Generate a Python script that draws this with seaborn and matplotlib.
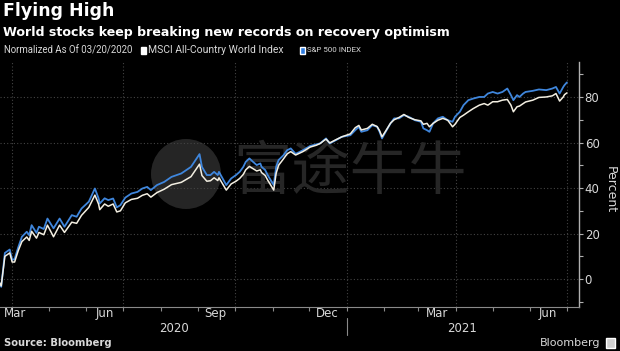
import matplotlib
matplotlib.use("Agg")
import matplotlib.pyplot as plt
import matplotlib.dates as mdates
from matplotlib.patches import Circle, Rectangle
from matplotlib.transforms import IdentityTransform
import pandas as pd
import seaborn as sns

# ---- data ----
dates = [
    "2020-03-20", "2020-03-23", "2020-03-26", "2020-03-30", "2020-04-01", "2020-04-03",
    "2020-04-06", "2020-04-09", "2020-04-13", "2020-04-15", "2020-04-17", "2020-04-21",
    "2020-04-23", "2020-04-27", "2020-04-30", "2020-05-05", "2020-05-10", "2020-05-14",
    "2020-05-20", "2020-05-24", "2020-05-28", "2020-06-03", "2020-06-08", "2020-06-11",
    "2020-06-12", "2020-06-16", "2020-06-19", "2020-06-23", "2020-06-26", "2020-06-29",
    "2020-07-03", "2020-07-08", "2020-07-13", "2020-07-17", "2020-07-21", "2020-07-24",
    "2020-07-29", "2020-08-04", "2020-08-10", "2020-08-18", "2020-08-26", "2020-09-02",
    "2020-09-04", "2020-09-08", "2020-09-11", "2020-09-14", "2020-09-17", "2020-09-18",
    "2020-09-21", "2020-09-24", "2020-09-28", "2020-10-02", "2020-10-05", "2020-10-08",
    "2020-10-10", "2020-10-13", "2020-10-16", "2020-10-19", "2020-10-22", "2020-10-23",
    "2020-10-26", "2020-10-28", "2020-11-02", "2020-11-04", "2020-11-06", "2020-11-10",
    "2020-11-13", "2020-11-16", "2020-11-20", "2020-11-26", "2020-12-02", "2020-12-07",
    "2020-12-10", "2020-12-15", "2020-12-18", "2020-12-23", "2020-12-28", "2021-01-04",
    "2021-01-08", "2021-01-11", "2021-01-13", "2021-01-18", "2021-01-22", "2021-01-26",
    "2021-01-28", "2021-01-30", "2021-02-02", "2021-02-06", "2021-02-09", "2021-02-13",
    "2021-02-17", "2021-02-21", "2021-02-26", "2021-03-03", "2021-03-05", "2021-03-08",
    "2021-03-10", "2021-03-13", "2021-03-17", "2021-03-21", "2021-03-25", "2021-03-29",
    "2021-03-31", "2021-04-04", "2021-04-07", "2021-04-11", "2021-04-15", "2021-04-20",
    "2021-04-24", "2021-04-27", "2021-05-01", "2021-05-05", "2021-05-09", "2021-05-13",
    "2021-05-16", "2021-05-18", "2021-05-21", "2021-05-23", "2021-05-26", "2021-05-28",
    "2021-06-03", "2021-06-08", "2021-06-14", "2021-06-19", "2021-06-22", "2021-06-25",
    "2021-06-28", "2021-06-29", "2021-07-01",
]
spx = [
    0.0, -3.4, 11.5, 13.0, 8.5, 8.8,
    14.0, 18.6, 20.8, 19.3, 23.7, 20.3,
    23.0, 22.0, 26.6, 22.3, 26.6, 23.0,
    28.1, 27.4, 31.0, 34.0, 39.8, 35.5,
    33.2, 35.5, 34.7, 35.4, 31.5, 32.5,
    35.8, 37.6, 38.3, 39.8, 40.5, 39.1,
    41.3, 42.7, 44.9, 46.4, 49.3, 54.9,
    49.3, 45.7, 45.7, 47.1, 45.7, 47.1,
    44.2, 41.3, 44.2, 45.7, 47.1, 49.3,
    51.5, 53.0, 51.5, 50.1, 50.8, 49.3,
    47.9, 45.7, 41.3, 49.3, 52.3, 54.4,
    56.6, 57.4, 55.0, 56.6, 58.5, 59.2,
    59.6, 61.8, 59.6, 61.0, 62.5, 63.2,
    65.4, 66.9, 64.7, 65.4, 67.6, 66.9,
    64.7, 61.8, 64.7, 68.4, 70.6, 70.6,
    72.0, 71.3, 69.8, 69.1, 66.2, 65.4,
    64.7, 68.4, 70.6, 71.3, 69.8, 69.1,
    71.3, 73.5, 76.4, 78.6, 79.3, 80.0,
    80.0, 81.5, 82.2, 81.5, 82.2, 83.7,
    80.8, 78.6, 80.8, 80.0, 81.5, 82.2,
    82.7, 83.3, 83.0, 83.7, 84.4, 81.5,
    84.4, 85.2, 86.4,
]
msci = [
    0.0, -3.0, 10.0, 11.5, 7.5, 7.5,
    12.5, 16.5, 18.5, 17.0, 21.0, 18.0,
    20.5, 19.5, 23.7, 18.6, 23.7, 20.5,
    25.0, 24.5, 28.0, 31.5, 36.9, 33.0,
    30.5, 33.0, 32.0, 33.0, 29.5, 30.0,
    33.5, 35.0, 35.5, 36.8, 37.5, 36.0,
    38.0, 39.5, 41.5, 42.5, 45.0, 50.5,
    45.5, 43.0, 43.2, 44.5, 43.3, 44.5,
    41.8, 39.1, 41.8, 43.0, 44.2, 46.0,
    48.0, 49.5, 48.5, 47.5, 48.0, 46.8,
    45.5, 43.5, 39.1, 46.5, 50.0, 52.8,
    55.0, 56.0, 54.5, 56.0, 58.0, 58.8,
    59.5, 61.5, 59.8, 61.2, 62.5, 63.8,
    66.5, 67.5, 65.5, 66.2, 68.0, 67.0,
    65.2, 62.5, 65.0, 68.5, 70.0, 71.0,
    72.3, 71.0, 70.0, 69.5, 68.0, 68.4,
    66.9, 68.4, 69.8, 70.6, 69.8, 66.9,
    68.0, 71.0, 72.0, 73.5, 74.9, 76.4,
    77.1, 76.4, 77.9, 77.9, 78.6, 78.9,
    76.4, 73.5, 75.7, 76.0, 77.1, 77.8,
    78.6, 79.8, 80.0, 80.5, 81.5, 78.2,
    80.0, 81.0, 81.8,
]
series_names = ["MSCI All-Country World Index", "S&P 500 INDEX"]
month_labels = ["Mar", "Jun", "Sep", "Dec", "Mar", "Jun"]
year_labels = ["2020", "2021"]
y_ticks = [0, 20, 40, 60, 80]

# ---- styling ----
BG = "black"
TXT = "#d8d8d8"
WHITE_LINE = "#f3efe2"
BLUE_LINE = "#3f86dc"
GRID = "#444444"

sns.set_theme(style="dark", rc={
    "axes.facecolor": BG, "figure.facecolor": BG,
    "axes.edgecolor": "#9a9a9a", "text.color": TXT,
    "xtick.color": "#9a9a9a", "ytick.color": "#9a9a9a",
})
plt.rcParams["font.family"] = ["DejaVu Sans", "Noto Sans CJK SC"]
NARROW = ["Roboto", "DejaVu Sans"]

df = pd.concat([
    pd.DataFrame({"date": pd.to_datetime(dates), "value": msci, "series": series_names[0]}),
    pd.DataFrame({"date": pd.to_datetime(dates), "value": spx, "series": series_names[1]}),
])

fig = plt.figure(figsize=(6.2, 3.51), dpi=100, facecolor=BG)
ax = fig.add_axes([0.0, 0.125, 0.934, 0.698])
ax.set_facecolor(BG)

# watermark (pixel coordinates, origin bottom-left)
wm = Circle((186, 351 - 174), 35, transform=IdentityTransform(),
            facecolor="#252525", edgecolor="none", zorder=0.5)
ax.add_artist(wm)
ax.text(350 / 620, 1 - 172 / 351, "富途牛牛", transform=fig.transFigure, ha="center",
        va="center", fontsize=42, color="#262626", family=["Noto Sans CJK SC"], zorder=0.6)

sns.lineplot(data=df[df.series == series_names[1]], x="date", y="value",
             color=BLUE_LINE, lw=1.3, ax=ax, legend=False, zorder=3)
sns.lineplot(data=df[df.series == series_names[0]], x="date", y="value",
             color=WHITE_LINE, lw=1.1, ax=ax, legend=False, zorder=4)

ax.set_xlim(pd.Timestamp("2020-03-22"), pd.Timestamp("2021-07-11"))
ax.set_ylim(-12.3, 95.3)
ax.set_xlabel("")
ax.set_ylabel("")

for s in ["left", "top"]:
    ax.spines[s].set_visible(False)
ax.spines["right"].set_color("#b0b0b0")
ax.spines["bottom"].set_color("#8a8a8a")
ax.spines["right"].set_linewidth(1.0)
ax.spines["bottom"].set_linewidth(0.8)

# x axis: quarterly gridlines, monthly tick marks
ax.xaxis.set_major_locator(mdates.MonthLocator(bymonth=[1, 4, 7, 10]))
ax.xaxis.set_minor_locator(mdates.MonthLocator())
ax.xaxis.set_major_formatter(plt.NullFormatter())
ax.tick_params(axis="x", which="both", direction="out", length=3, width=0.8,
               colors="#8a8a8a", bottom=True)
ax.grid(axis="x", which="major", color=GRID, linestyle=(0, (1, 2)), linewidth=0.8)

# y axis on right
ax.yaxis.tick_right()
ax.set_yticks(y_ticks)
ax.set_yticks([-10, 10, 30, 50, 70, 90], minor=True)
ax.tick_params(axis="y", which="both", direction="out", length=3, width=0.8,
               colors="#b0b0b0", labelcolor=TXT, labelsize=8.5, right=True, left=False, pad=1)
ax.grid(axis="y", which="major", color=GRID, linestyle=(0, (1, 2)), linewidth=0.8)

# month labels (centred in month; first one clipped to the start)
xt = ax.get_xaxis_transform()
month_pos = [None, "2020-06-16", "2020-09-15", "2020-12-16", "2021-03-16", "2021-06-15"]
for lab, pos in zip(month_labels, month_pos):
    if pos is None:
        ax.text(0.006, -0.026, lab, transform=ax.transAxes, ha="left", va="center",
                fontsize=8.5, color=TXT)
    else:
        ax.text(pd.Timestamp(pos), -0.026, lab, transform=xt, ha="center", va="center",
                fontsize=8.5, color=TXT)
ax.text(pd.Timestamp("2020-08-12"), -0.087, year_labels[0], transform=xt,
        ha="center", va="center", fontsize=8.5, color=TXT)
ax.text(pd.Timestamp("2021-04-06"), -0.087, year_labels[1], transform=xt,
        ha="center", va="center", fontsize=8.5, color=TXT)
ax.plot([pd.Timestamp("2021-01-01")] * 2, [-0.045, -0.115], transform=xt,
        color="#8a8a8a", lw=0.8, clip_on=False)

# titles
fig.text(0.005, 0.993, "Flying High", ha="left", va="top", fontsize=12.5,
         weight="bold", color="white")
fig.text(0.005, 0.925, "World stocks keep breaking new records on recovery optimism",
         ha="left", va="top", fontsize=9.05, weight="bold", color="white")

# legend line
ly = 1 - 50 / 351
fig.text(0.006, ly, "Normalized As Of 03/20/2020", ha="left", va="center",
         fontsize=6.9, color=TXT, family=NARROW)
fig.patches.append(Rectangle((141 / 620, ly - 0.010), 5 / 620, 7 / 351,
                             transform=fig.transFigure, facecolor="white", figure=fig))
fig.text(148 / 620, ly, series_names[0], ha="left", va="center", fontsize=7.5,
         color=TXT, family=NARROW)
fig.patches.append(Rectangle((300 / 620, ly - 0.010), 5 / 620, 7 / 351,
                             transform=fig.transFigure, facecolor="#2f7de1", figure=fig))
fig.text(307 / 620, ly, series_names[1], ha="left", va="center", fontsize=5.7,
         color=TXT, family=NARROW)

# right label
fig.text(610 / 620, 1 - 190 / 351, "Percent", rotation=270, ha="center", va="center",
         fontsize=9, color=TXT)

# footer
fig.text(0.006, 1 - 343 / 351, "Source: Bloomberg", ha="left", va="center",
         fontsize=7.2, weight="bold", color=TXT)
fig.text(600 / 620, 1 - 343 / 351, "Bloomberg", ha="right", va="center",
         fontsize=8.0, color=TXT)
fig.patches.append(Rectangle((606 / 620, 1 - 348 / 351), 9 / 620, 10 / 351,
                             transform=fig.transFigure, facecolor="#d0d0d0", figure=fig))

fig.savefig("out.png", dpi=100, facecolor=BG)
